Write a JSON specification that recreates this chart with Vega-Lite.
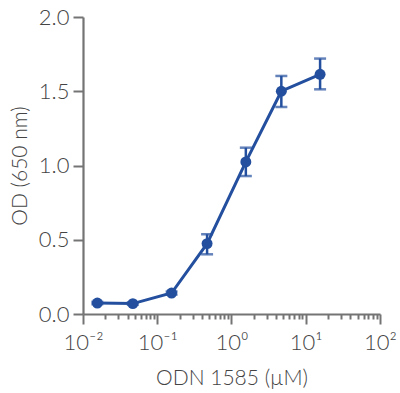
{
  "$schema": "https://vega.github.io/schema/vega-lite/v6.json",
  "width": 297,
  "height": 297,
  "autosize": "none",
  "padding": {"left": 83, "top": 17, "right": 20, "bottom": 79},
  "background": "white",
  "config": {
    "view": {"stroke": null},
    "axis": {
      "grid": false,
      "domainColor": "#747474",
      "domainWidth": 2.2,
      "tickColor": "#747474",
      "tickWidth": 2,
      "labelFont": "Lato",
      "labelFontWeight": 300,
      "labelColor": "#444444",
      "labelFontSize": 22,
      "titleFont": "Lato",
      "titleFontWeight": 300,
      "titleColor": "#444444",
      "titleFontSize": 21
    }
  },
  "data": {
    "values": [
      {"conc": 0.0156, "od": 0.074, "lo": 0.066, "hi": 0.082},
      {"conc": 0.0469, "od": 0.070, "lo": 0.062, "hi": 0.078},
      {"conc": 0.156, "od": 0.141, "lo": 0.131, "hi": 0.151},
      {"conc": 0.469, "od": 0.474, "lo": 0.402, "hi": 0.537},
      {"conc": 1.56, "od": 1.024, "lo": 0.929, "hi": 1.12},
      {"conc": 4.69, "od": 1.50, "lo": 1.394, "hi": 1.603},
      {"conc": 15.6, "od": 1.614, "lo": 1.513, "hi": 1.72}
    ]
  },
  "encoding": {
    "x": {
      "field": "conc",
      "type": "quantitative",
      "scale": {"type": "log", "domain": [0.01, 100], "nice": false},
      "axis": {
        "title": "ODN 1585 (µM)",
        "titlePadding": 14,
        "values": [0.01, 0.02, 0.03, 0.04, 0.05, 0.06, 0.07, 0.08, 0.09, 0.1, 0.2, 0.3, 0.4, 0.5, 0.6, 0.7, 0.8, 0.9, 1, 2, 3, 4, 5, 6, 7, 8, 9, 10, 20, 30, 40, 50, 60, 70, 80, 90, 100],
        "tickSize": {"condition": {"test": "indexof([0.01,0.1,1,10,100], datum.value) >= 0", "value": 10}, "value": 5},
        "labelExpr": "datum.value == 0.01 ? '10⁻²' : datum.value == 0.1 ? '10⁻¹' : datum.value == 1 ? '10⁰' : datum.value == 10 ? '10¹' : datum.value == 100 ? '10²' : ''",
        "labelPadding": 8,
        "labelOverlap": false,
        "labelFlush": false
      }
    },
    "y": {
      "field": "od",
      "type": "quantitative",
      "scale": {"domain": [0, 2], "nice": false},
      "axis": {
        "title": "OD (650 nm)",
        "values": [0, 0.5, 1, 1.5, 2],
        "format": ".1f",
        "tickSize": 10,
        "labelPadding": 4,
        "titlePadding": 8
      }
    }
  },
  "layer": [
    {
      "mark": {"type": "errorbar", "ticks": {"size": 12, "color": "#234f9e"}, "thickness": 2.5, "color": "#234f9e"},
      "encoding": {
        "y": {"field": "lo", "type": "quantitative"},
        "y2": {"field": "hi"}
      }
    },
    {
      "mark": {"type": "line", "color": "#234f9e", "strokeWidth": 3}
    },
    {
      "mark": {"type": "circle", "color": "#234f9e", "size": 120, "opacity": 1}
    }
  ]
}
